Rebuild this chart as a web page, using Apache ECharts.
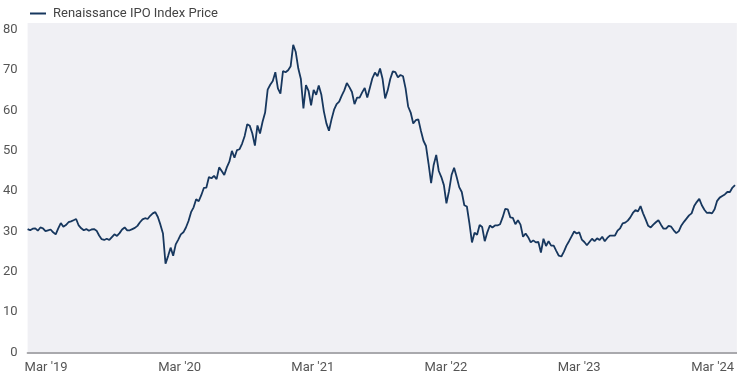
<!DOCTYPE html>
<html>
<head>
<meta charset="utf-8">
<script src="https://cdn.jsdelivr.net/npm/echarts@6/dist/echarts.min.js"></script>
<style>
html,body{margin:0;padding:0;background:#fff;}
#chart{width:737px;height:381px;}
</style>
</head>
<body>
<div id="chart"></div>
<script>
// Weekly observations starting 2019-03-01
const startDate = '2019-03-01';
const seriesName = 'Renaissance IPO Index Price';
const priceValues = [
30.6,30.3,30.7,30.8,30.2,31.0,30.8,30.1,30.3,30.5,
29.8,29.3,30.8,32.1,31.2,31.6,32.3,32.5,32.8,33.1,
31.5,30.8,30.3,30.6,30.2,30.5,30.6,30.2,29.0,28.1,
27.9,28.2,27.9,28.6,29.3,28.9,29.6,30.5,31.0,30.3,
30.3,30.6,30.9,31.4,32.3,33.0,33.3,33.1,33.9,34.5,
34.8,33.6,31.7,29.5,22.0,23.9,26.0,24.0,26.8,28.0,
29.3,29.8,31.0,32.6,34.8,36.0,38.0,37.5,39.0,40.8,
40.9,43.5,43.2,43.8,43.0,45.9,45.0,44.0,45.9,47.3,
50.0,48.3,50.2,50.4,51.8,53.7,56.6,56.2,54.3,51.3,
56.3,54.3,57.2,59.5,65.2,66.4,67.3,69.5,65.5,64.2,
69.8,69.5,70.0,71.0,76.3,74.5,70.4,67.8,60.5,66.3,
64.9,61.3,65.1,63.9,66.2,64.0,59.8,56.8,55.0,57.8,
60.2,61.6,62.2,63.7,65.0,66.8,65.8,64.6,61.6,63.2,
63.2,64.5,65.6,63.2,65.6,68.0,69.4,68.5,70.4,67.8,
63.0,65.0,67.8,69.7,69.5,68.2,68.8,68.5,65.5,61.0,
59.5,56.8,57.6,57.8,55.0,52.5,51.2,46.8,42.0,46.5,
49.0,45.0,43.5,41.5,37.0,40.0,44.0,45.8,43.5,41.0,
39.8,36.5,36.2,32.0,27.3,29.7,29.2,31.6,31.1,27.6,
29.8,31.5,31.0,31.5,31.5,31.8,33.5,35.6,35.5,33.5,
33.4,31.8,32.8,31.7,28.7,29.5,28.6,27.3,27.8,27.3,
27.4,24.8,28.2,26.4,27.6,26.5,26.5,25.2,24.0,23.8,
25.0,26.5,27.6,28.8,30.0,29.5,29.8,28.0,27.4,26.6,
27.4,28.2,27.6,28.3,27.9,28.7,27.6,28.4,29.0,29.0,
29.0,30.2,30.8,32.0,32.2,32.7,33.5,34.6,35.3,35.0,
36.3,34.5,33.0,31.4,31.0,31.7,32.3,32.8,31.7,30.7,
30.7,31.4,31.2,30.3,29.6,30.1,31.5,32.4,33.2,34.0,
34.5,36.3,37.3,38.1,36.5,35.4,34.6,34.7,34.5,35.5,
37.6,38.4,38.8,39.2,39.8,39.8,40.9,41.5
];
const tickYears = [2019, 2020, 2021, 2022, 2023, 2024];

const DAY = 86400000;
const t0 = Date.parse(startDate + 'T00:00:00Z');
const seriesData = priceValues.map((v, i) => [t0 + i * 7 * DAY, v]);
const tickStamps = tickYears.map(y => Date.UTC(y, 2, 1));

const chart = echarts.init(document.getElementById('chart'), null, {renderer: 'canvas'});
const font = 'Roboto, "Liberation Sans", sans-serif';
chart.setOption({
  animation: false,
  legend: {
    show: true,
    left: 25,
    top: 2,
    icon: 'rect',
    itemWidth: 16,
    itemHeight: 2,
    itemGap: 10,
    textStyle: {color: '#444', fontSize: 13, fontFamily: font, padding: [0, 0, 0, 2]},
    data: [seriesName]
  },
  grid: {
    left: 26, right: 0, top: 23, bottom: 28.5,
    show: true, backgroundColor: '#f0f0f4', borderWidth: 0
  },
  xAxis: {
    type: 'value',
    min: Date.UTC(2019, 2, 1),
    max: Date.UTC(2024, 5, 26),
    axisLine: {show: true, onZero: false, lineStyle: {color: '#a9a9ad', width: 2}},
    axisTick: {show: false},
    splitLine: {show: false},
    axisLabel: {
      customValues: tickStamps,
      showMinLabel: true,
      color: '#555', fontSize: 13, fontFamily: font, margin: 9, align: 'left',
      padding: [0, 0, 0, -3],
      formatter: function (val) {
        const d = new Date(val);
        return "Mar '" + String(d.getUTCFullYear()).slice(2);
      }
    }
  },
  yAxis: {
    type: 'value',
    min: 0, max: 81.7, interval: 10,
    axisLine: {show: false},
    axisTick: {show: false},
    splitLine: {show: false},
    axisLabel: {
      color: '#555', fontSize: 13, fontFamily: font, margin: 10,
      showMaxLabel: false
    }
  },
  series: [{
    name: seriesName,
    type: 'line',
    data: seriesData,
    showSymbol: false,
    symbol: 'none',
    lineStyle: {color: '#17375e', width: 1.8},
    itemStyle: {color: '#17375e'}
  }]
});
</script>
</body>
</html>
